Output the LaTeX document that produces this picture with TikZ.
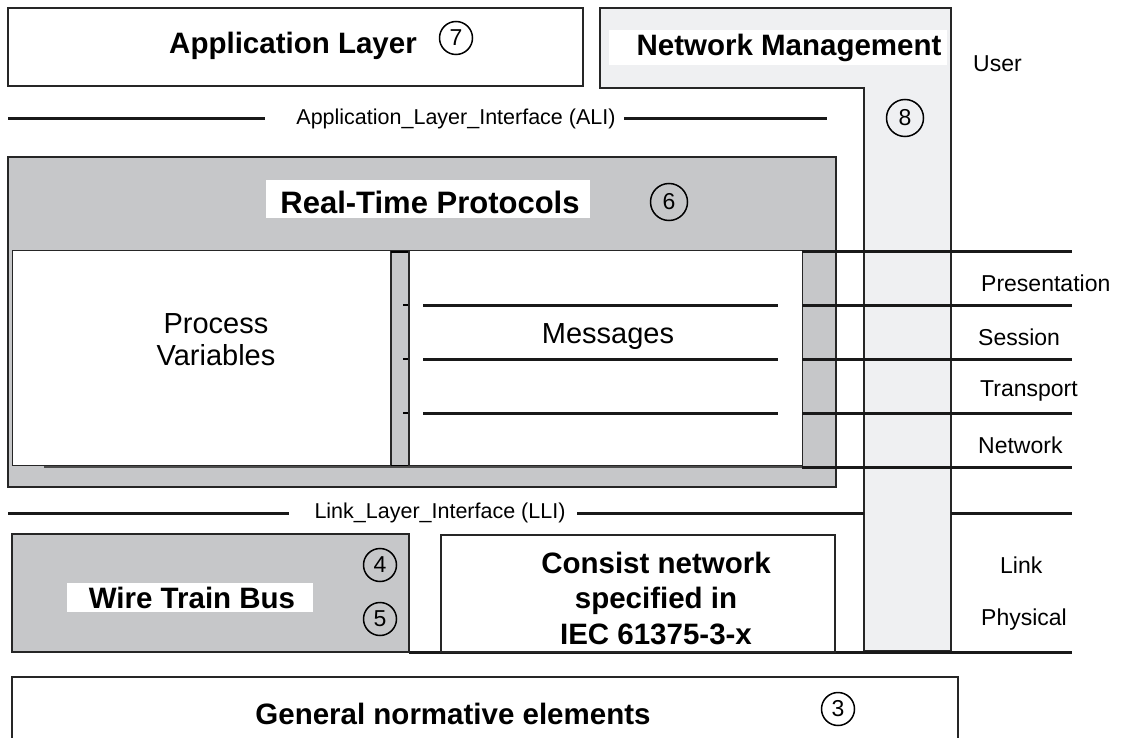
\documentclass[tikz,border=0pt]{standalone}
\usepackage{fontspec}
\setmainfont{Liberation Sans}
\begin{document}
\begin{tikzpicture}[x=1pt,y=-1pt,
  box/.style={draw=black!85,line width=1.6pt},
  thickline/.style={draw=black!90,line width=3pt},
  numc/.style={circle,draw,line width=1.5pt,inner sep=0pt,minimum size=33pt,font=\fontsize{23}{23}\selectfont},
  bignumc/.style={numc,minimum size=37pt},
  bigb/.style={font=\fontsize{29.5}{33}\selectfont\bfseries,inner sep=0pt},
  reg/.style={font=\fontsize{29}{32}\selectfont,inner sep=0pt},
  lbl/.style={font=\fontsize{23}{26}\selectfont,inner sep=0pt,anchor=west},
  itf/.style={font=\fontsize{21.5}{24}\selectfont,inner sep=0pt}
]
\definecolor{midgray}{RGB}{198,199,201}
\definecolor{lightgray}{RGB}{239,240,242}
\useasboundingbox (0,0) rectangle (1122,738);
\fill[white] (0,0) rectangle (1122,738);

% Application layer
\draw[box] (8,8) rectangle (583,86);
\node[bigb] (app) at (293,46) {Application Layer};
\node[numc] (c7) at (456,38) {7};

% Network management L
\draw[box,fill=lightgray] (600,8) -- (951,8) -- (951,651) -- (864,651) -- (864,88) -- (600,88) -- cycle;
\fill[white] (609,30) rectangle (947,65);
\node[bigb] (nm) at (789,48) {Network Management};
\node[bignumc] (c8) at (905,118) {8};
\node[lbl] (user) at (973,64) {User};

% ALI
\node[itf] (ali) at (456,119) {Application\_Layer\_Interface (ALI)};
\coordinate (aliL) at (8,119);
\coordinate (aliR) at (827,119);
\draw[thickline] (aliL) -- (265,119);
\draw[thickline] (624,119) -- (aliR);

% Real-time protocols
\draw[box,fill=midgray] (8,157) rectangle (836,487);
\fill[white] (266,180) rectangle (590,218);
\node[bigb,font=\fontsize{31}{33}\selectfont\bfseries] (rtp) at (430,202) {Real-Time Protocols};
\node[bignumc] (c6) at (669,202) {6};

\draw[box,fill=white,line width=1pt] (12,251) rectangle (390,465);
\node[reg,align=center] (pv) at (216,340) {Process\\Variables};
\draw[box,fill=white,line width=1pt] (409,251) rectangle (802,465);
\node[reg] (msg) at (608,337) {Messages};
% strip
\draw[box,fill=midgray,line width=1pt] (391,251) rectangle (408,466);
\draw[line width=2.6pt] (391,252) -- (408,252);
\draw[line width=2.6pt] (391,466) -- (408,466);
\draw[line width=1.2pt,draw=black!70] (44,467) -- (802,467);
\foreach \y in {305,359,413}{
  \draw[line width=2.8pt] (403,\y) -- (408,\y);
  \draw[thickline] (423,\y) -- (778,\y);
  \draw[thickline] (802,\y) -- (1072,\y);
}
\draw[thickline] (802,252) -- (1072,252);
\draw[thickline] (802,467) -- (1072,467);
\node[lbl] (pres) at (981,283) {Presentation};
\node[lbl] (sess) at (978,337) {Session};
\node[lbl] (trans) at (980,391) {Transport};
\node[lbl] (netw) at (978,445) {Network};

% LLI
\node[itf] (lli) at (440,513) {Link\_Layer\_Interface (LLI)};
\draw[thickline] (8,513) -- (289,513);
\draw[thickline] (577,513) -- (864,513);
\draw[thickline] (951,513) -- (1072,513);

% bottom line
\draw[thickline] (409,652) -- (1072,652);

% WTB
\draw[box,fill=midgray,line width=1.2pt] (12,534) rectangle (409,652);
\fill[white] (67,583) rectangle (313,612);
\node[bigb] (wtb) at (192,598) {Wire Train Bus};
\node[numc] (c4) at (380,565) {4};
\node[numc] (c5) at (380,619) {5};

% Consist
\draw[box,line width=2.2pt,fill=white] (441,535) rectangle (835,652);
\node[bigb,align=center,font=\fontsize{29.5}{35.5}\selectfont\bfseries] (cons) at (656,598) {Consist network\\specified in\\IEC 61375-3-x};
\node[lbl] (link) at (1000,565) {Link};
\node[lbl] (phys) at (981,620) {Physical};

% General
\draw[box,line width=1.2pt] (12,677) rectangle (958,740);
\node[bigb] (gen) at (453,714) {General normative elements};
\node[numc] (c3) at (838,709) {3};
\end{tikzpicture}
\end{document}
